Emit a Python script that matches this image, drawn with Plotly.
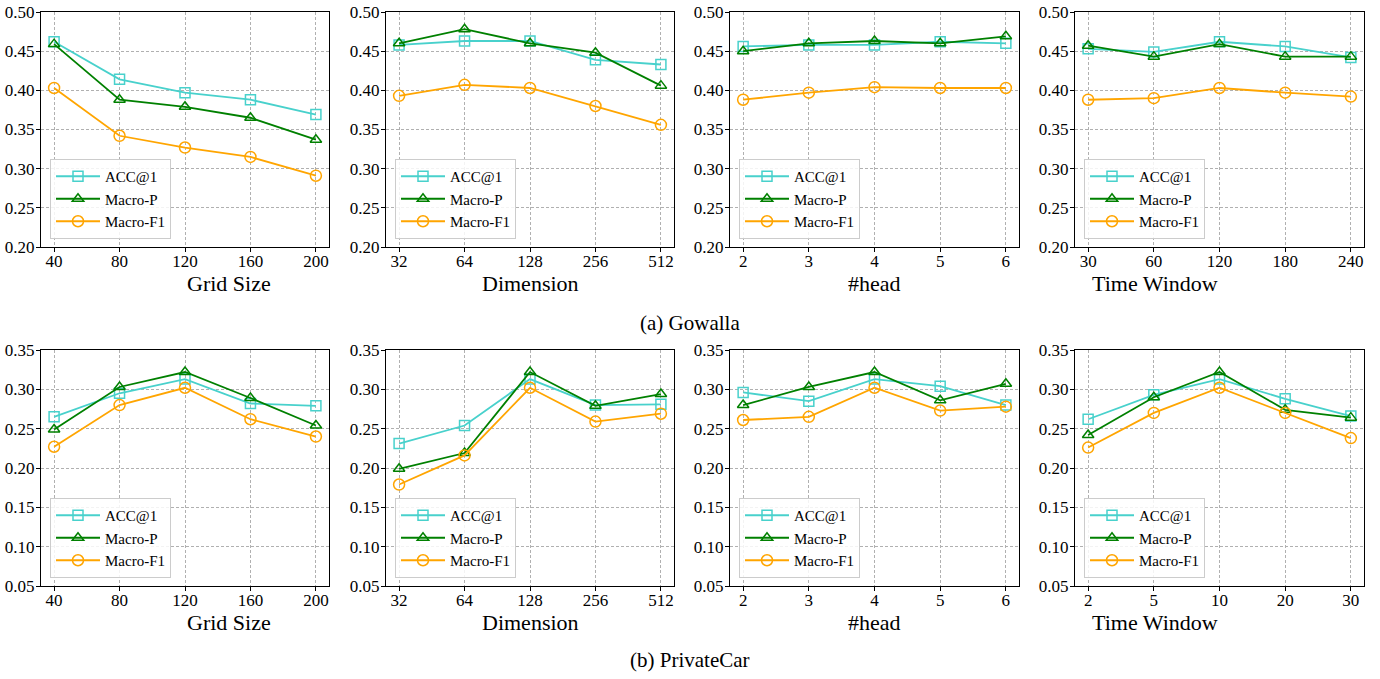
import plotly.graph_objects as go

# ---- data ----
series_names = ["ACC@1", "Macro-P", "Macro-F1"]

gw_grid_x = ["40", "80", "120", "160", "200"]
gw_grid_acc = [0.462, 0.414, 0.397, 0.388, 0.369]
gw_grid_p = [0.459, 0.388, 0.379, 0.365, 0.337]
gw_grid_f1 = [0.403, 0.342, 0.327, 0.315, 0.291]

gw_dim_x = ["32", "64", "128", "256", "512"]
gw_dim_acc = [0.458, 0.463, 0.463, 0.439, 0.433]
gw_dim_p = [0.460, 0.478, 0.460, 0.448, 0.406]
gw_dim_f1 = [0.393, 0.407, 0.403, 0.380, 0.356]

gw_head_x = ["2", "3", "4", "5", "6"]
gw_head_acc = [0.456, 0.458, 0.458, 0.462, 0.460]
gw_head_p = [0.450, 0.460, 0.463, 0.460, 0.469]
gw_head_f1 = [0.388, 0.397, 0.404, 0.403, 0.403]

gw_tw_x = ["30", "60", "120", "180", "240"]
gw_tw_acc = [0.453, 0.449, 0.462, 0.456, 0.442]
gw_tw_p = [0.457, 0.443, 0.459, 0.443, 0.443]
gw_tw_f1 = [0.388, 0.390, 0.403, 0.397, 0.392]

pc_grid_x = ["40", "80", "120", "160", "200"]
pc_grid_acc = [0.265, 0.295, 0.313, 0.282, 0.279]
pc_grid_p = [0.249, 0.303, 0.322, 0.289, 0.254]
pc_grid_f1 = [0.227, 0.280, 0.302, 0.262, 0.240]

pc_dim_x = ["32", "64", "128", "256", "512"]
pc_dim_acc = [0.231, 0.254, 0.313, 0.280, 0.281]
pc_dim_p = [0.199, 0.219, 0.322, 0.279, 0.294]
pc_dim_f1 = [0.179, 0.216, 0.302, 0.259, 0.269]

pc_head_x = ["2", "3", "4", "5", "6"]
pc_head_acc = [0.296, 0.285, 0.313, 0.304, 0.280]
pc_head_p = [0.280, 0.303, 0.322, 0.286, 0.307]
pc_head_f1 = [0.261, 0.265, 0.302, 0.273, 0.278]

pc_tw_x = ["2", "5", "10", "20", "30"]
pc_tw_acc = [0.262, 0.293, 0.313, 0.288, 0.266]
pc_tw_p = [0.242, 0.290, 0.322, 0.274, 0.264]
pc_tw_f1 = [0.226, 0.270, 0.302, 0.270, 0.238]

x_titles = ["Grid Size", "Dimension", "#head", "Time Window"]
captions = ["(a) Gowalla", "(b) PrivateCar"]
row1_range = [0.20, 0.50]
row2_range = [0.05, 0.35]

panels = [
    (gw_grid_x, gw_grid_acc, gw_grid_p, gw_grid_f1),
    (gw_dim_x, gw_dim_acc, gw_dim_p, gw_dim_f1),
    (gw_head_x, gw_head_acc, gw_head_p, gw_head_f1),
    (gw_tw_x, gw_tw_acc, gw_tw_p, gw_tw_f1),
    (pc_grid_x, pc_grid_acc, pc_grid_p, pc_grid_f1),
    (pc_dim_x, pc_dim_acc, pc_dim_p, pc_dim_f1),
    (pc_head_x, pc_head_acc, pc_head_p, pc_head_f1),
    (pc_tw_x, pc_tw_acc, pc_tw_p, pc_tw_f1),
]

# ---- styling ----
W, H = 1380, 679
FONT = "Liberation Serif, Times New Roman, serif"
colors = ["#48D1CC", "#008000", "#FFA500"]
symbols = ["square-open", "triangle-up-open", "circle-open"]
msizes = [10, 10, 11]

x_px = [(41, 329), (386, 674), (730, 1019), (1075, 1364)]
y_px = [(12, 247), (350, 586)]

fig = go.Figure()
annotations = []

for i, (xs, acc, p, f1) in enumerate(panels):
    row, col = divmod(i, 4)
    n = i + 1
    xa = "x" if n == 1 else f"x{n}"
    ya = "y" if n == 1 else f"y{n}"
    lg = "legend" if n == 1 else f"legend{n}"
    for k, ys in enumerate([acc, p, f1]):
        fig.add_trace(go.Scatter(
            x=xs, y=ys, name=series_names[k], mode="lines+markers",
            line=dict(color=colors[k], width=1.8),
            marker=dict(symbol=symbols[k], size=msizes[k], color=colors[k],
                        line=dict(color=colors[k], width=1.5)),
            xaxis=xa, yaxis=ya, legend=lg,
        ))
    x0, x1 = x_px[col]
    y0, y1 = y_px[row]
    axkey = "xaxis" if n == 1 else f"xaxis{n}"
    aykey = "yaxis" if n == 1 else f"yaxis{n}"
    rng = row1_range if row == 0 else row2_range
    fig.update_layout(**{
        axkey: dict(
            domain=[x0 / W, x1 / W], anchor=ya, type="category",
            range=[-0.2, 4.2], showline=True, mirror=True, linecolor="black",
            linewidth=1, ticks="outside", ticklen=4, tickcolor="black",
            showgrid=True, gridcolor="#b0b0b0", griddash="3px,2px", gridwidth=0.8,
            tickfont=dict(family=FONT, size=17, color="black"),
            ticklabelstandoff=-5,
            automargin=False, zeroline=False,
        ),
        aykey: dict(
            domain=[1 - y1 / H, 1 - y0 / H], anchor=xa, range=rng,
            dtick=0.05, tick0=0, tickformat=".2f",
            showline=True, mirror=True, linecolor="black", linewidth=1,
            ticks="outside", ticklen=4, tickcolor="black",
            showgrid=True, gridcolor="#b0b0b0", griddash="3px,2px", gridwidth=0.8,
            tickfont=dict(family=FONT, size=17, color="black"),
            ticklabelstandoff=-2,
            automargin=False, zeroline=False,
        ),
        lg: dict(
            x=(x0 + 9) / W, y=1 - (y1 - 8) / H, xanchor="left", yanchor="bottom",
            bgcolor="rgba(255,255,255,0.85)", bordercolor="#cccccc", borderwidth=1,
            font=dict(family=FONT, size=15, color="black"),
            itemwidth=44, tracegroupgap=0,
        ),
    })
    annotations.append(dict(
        text=x_titles[col], x=(x0 + x1) / 2 / W, y=1 - (y1 + 36) / H,
        xref="paper", yref="paper", showarrow=False, yanchor="middle",
        font=dict(family=FONT, size=22, color="black"),
    ))

annotations += [
    dict(text=captions[0], x=0.5, y=1 - 323 / H, xref="paper", yref="paper",
         showarrow=False, yanchor="middle", font=dict(family=FONT, size=21, color="black")),
    dict(text=captions[1], x=0.5, y=1 - 660 / H, xref="paper", yref="paper",
         showarrow=False, yanchor="middle", font=dict(family=FONT, size=21, color="black")),
]

fig.update_layout(
    width=W, height=H, margin=dict(l=0, r=0, t=0, b=0),
    paper_bgcolor="white", plot_bgcolor="white",
    font=dict(family=FONT, color="black"),
    annotations=annotations, showlegend=True,
)

fig.write_html("out.html", config={"displayModeBar": False},
               post_script="document.body.style.margin='0';document.body.style.overflow='hidden';")
